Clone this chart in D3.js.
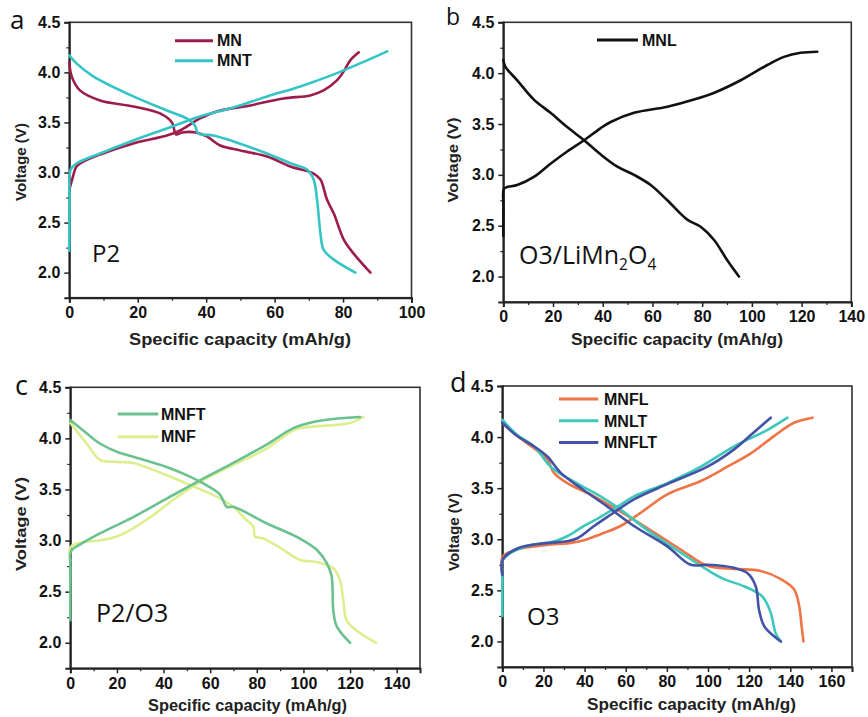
<!DOCTYPE html>
<html>
<head>
<meta charset="utf-8">
<script src="https://cdn.jsdelivr.net/npm/d3@7"></script>
<style>
  html, body { margin: 0; padding: 0; background: #fff; }
  svg { display: block; }
  .axis-title { font-family: "Liberation Sans", Arial, sans-serif; font-weight: bold; fill: #222; }
  .legend-text { font-family: "Liberation Sans", Arial, sans-serif; font-weight: bold; fill: #111; }
  .tag { font-family: "Open Sans", "Noto Sans", sans-serif; fill: #111; }
</style>
</head>
<body>
<svg id="chart" width="868" height="717"></svg>
<script>
// ---- Galvanostatic charge/discharge profiles: [capacity (mAh/g), voltage (V)] ----

// (a) P2
const mnCharge = [[0,2.83],[1,2.95],[2.1,3.06],[4.1,3.11],[9,3.18],[18.7,3.29],[28.5,3.37],[32.4,3.42],[38.2,3.54],[43.1,3.61],[52.9,3.67],[62.6,3.74],[70.4,3.77],[74.3,3.82],[78.2,3.92],[80.2,4.01],[82.1,4.12],[84.6,4.2]];
const mnDischarge = [[0,4.1],[0.7,3.96],[3.1,3.82],[9,3.72],[18.7,3.66],[26.5,3.59],[30,3.5],[31.2,3.38],[33,3.4],[37,3.4],[40.2,3.36],[44.1,3.27],[50,3.22],[57.8,3.16],[64.6,3.06],[71.4,2.99],[73.4,2.93],[75.3,2.73],[77.3,2.59],[80.2,2.33],[83.1,2.19],[88,2.0]];
const mntCharge = [[0,2.22],[0.1,2.7],[0.4,3.03],[2.1,3.09],[9,3.19],[18.7,3.32],[28.5,3.44],[38.2,3.56],[48,3.65],[57.8,3.76],[67.5,3.86],[77.3,3.98],[87,4.12],[92.9,4.21]];
const mntDischarge = [[0,4.17],[2.1,4.09],[7,3.96],[18.7,3.76],[28.5,3.62],[34.3,3.54],[36.7,3.47],[37.7,3.39],[42.1,3.37],[48,3.31],[57.8,3.19],[65.6,3.08],[69.5,3.03],[71.4,2.93],[72.4,2.73],[73.4,2.39],[74.3,2.23],[77.3,2.13],[83.6,2.0]];

// (b) O3/LiMn2O4
const mnlCharge = [[0,2.4],[0.05,2.7],[0.2,2.86],[1.5,2.88],[5.6,2.9],[12.3,2.98],[19,3.11],[25.7,3.23],[32.5,3.34],[39.2,3.46],[43.2,3.52],[52.6,3.61],[66,3.67],[76.7,3.74],[86.1,3.82],[95.5,3.93],[106.2,4.08],[112.9,4.16],[119.6,4.2],[126.3,4.21]];
const mnlDischarge = [[0,4.13],[0.9,4.06],[5.6,3.93],[12.3,3.74],[19,3.61],[25.7,3.47],[32.5,3.34],[39.2,3.2],[45.9,3.08],[52.6,3.0],[59.3,2.9],[66,2.75],[74,2.56],[79.4,2.49],[84.8,2.36],[90.1,2.16],[94.8,2.0]];

// (c) P2/O3
const mnftCharge = [[0,2.22],[0.1,2.7],[0.4,2.9],[4.1,2.96],[12.7,3.07],[27,3.23],[41.3,3.41],[55.6,3.59],[69.9,3.76],[84.2,3.94],[95.7,4.1],[104.2,4.16],[112.8,4.19],[124.3,4.21]];
const mnfCharge = [[0,2.8],[0.2,2.94],[7,2.99],[12.7,3.0],[19.9,3.04],[27,3.12],[35.6,3.25],[44.2,3.4],[51.3,3.51],[58.5,3.61],[69.9,3.74],[84.2,3.9],[95.7,4.08],[101.4,4.11],[112.8,4.13],[120,4.15],[125.7,4.21]];
const mnftDischarge = [[0,4.18],[7,4.05],[12.7,3.95],[19.9,3.87],[27,3.82],[41.3,3.72],[49.9,3.64],[58.5,3.54],[64.2,3.45],[67.1,3.33],[69.9,3.33],[84.2,3.17],[98.5,3.02],[105.7,2.91],[110,2.78],[112.1,2.65],[112.8,2.32],[114.3,2.16],[120,2.0]];
const mnfDischarge = [[0,4.15],[7,3.95],[12.7,3.79],[19.9,3.77],[27,3.76],[41.3,3.64],[52.8,3.53],[62.8,3.43],[69.9,3.33],[75.6,3.2],[78.5,3.14],[79.2,3.04],[82.8,3.02],[91.4,2.91],[98.5,2.81],[105.7,2.79],[112.8,2.73],[115.7,2.61],[117.1,2.42],[118.5,2.22],[122.8,2.12],[131.1,2.0]];

// (d) O3
const mnflCharge = [[0,2.7],[0.2,2.83],[7.3,2.9],[15.4,2.93],[23.5,2.95],[31.6,2.96],[39.7,2.99],[47.8,3.05],[57.5,3.13],[67.3,3.26],[80.2,3.44],[96.5,3.57],[109.4,3.71],[120.8,3.84],[132.1,4.01],[141.8,4.14],[150.8,4.19]];
const mnltCharge = [[0,2.25],[0.1,2.6],[0.4,2.8],[7.3,2.9],[15.4,2.95],[23.5,2.97],[31.6,3.03],[39.7,3.13],[47.8,3.22],[56,3.32],[64,3.42],[80.2,3.55],[96.5,3.71],[112.7,3.91],[128.9,4.07],[138.6,4.19]];
const mnfltCharge = [[0,2.65],[0.2,2.8],[7.3,2.91],[20.3,2.96],[31.6,2.98],[36.5,3.01],[44.6,3.13],[52.7,3.24],[64,3.39],[80.2,3.54],[99.7,3.71],[112.7,3.88],[120.8,4.02],[130.5,4.19]];
const mnflDischarge = [[0,4.14],[7.3,4.01],[15.4,3.89],[21.9,3.78],[25.1,3.65],[31.6,3.55],[44.6,3.42],[57.5,3.27],[70.5,3.11],[86.7,2.9],[99.7,2.74],[112.7,2.71],[125.6,2.69],[135.4,2.61],[141.8,2.51],[144.3,2.35],[145.5,2.15],[146.4,2.0]];
const mnltDischarge = [[0,4.17],[7.3,4.02],[15.4,3.91],[23.5,3.71],[31.6,3.6],[47.8,3.42],[57.5,3.29],[70.5,3.09],[86.7,2.87],[99.7,2.7],[107.8,2.61],[117.5,2.54],[126.4,2.44],[130.5,2.28],[132.9,2.08],[135.4,2.0]];
const mnfltDischarge = [[0,4.14],[7.3,4.01],[15.4,3.91],[21.9,3.81],[28.4,3.65],[39.7,3.48],[51.1,3.32],[64,3.13],[80.2,2.93],[91.6,2.75],[99.7,2.75],[112.7,2.72],[119.1,2.67],[123.2,2.54],[124.8,2.31],[127.3,2.15],[132.1,2.05],[135.4,2.0]];

// ---- Axis ticks ----
const voltageTicks = [2.0, 2.5, 3.0, 3.5, 4.0, 4.5];
const voltageMinor = [2.25, 2.75, 3.25, 3.75, 4.25];
const capTicksA = [0, 20, 40, 60, 80, 100];
const capTicksB = [0, 20, 40, 60, 80, 100, 120, 140];
const capTicksC = [0, 20, 40, 60, 80, 100, 120, 140];
const capTicksD = [0, 20, 40, 60, 80, 100, 120, 140, 160];

const svg = d3.select("#chart");

const panels = [
  {
    letter: "a", box: {x0: 69.3, x1: 411.5, y0: 22.3, y1: 297.7}, xDomain: [0, 100], xTicks: capTicksA,
    letterPos: [10, 29, 26], tag: {text: "P2", x: 92, y: 262, size: 24},
    xTitle: {cx: 240, y: 345, len: 222}, yTitle: {cx: 21.5, cy: 162, len: 78},
    legend: {x0: 175, x1: 213, y: 40.7, dy: 20, tx: 217},
    series: [
      {name: "MN", color: "#9c1d4d", parts: [mnCharge, mnDischarge]},
      {name: "MNT", color: "#35c4c6", parts: [mntCharge, mntDischarge]}
    ]
  },
  {
    letter: "b", box: {x0: 503.3, x1: 851.3, y0: 22.3, y1: 302}, xDomain: [0, 140], xTicks: capTicksB,
    letterPos: [446, 25, 23], tag: {text: "O3/LiMn", sub1: "2", mid: "O", sub2: "4", x: 519, y: 264, size: 25},
    xTitle: {cx: 677, y: 345, len: 212}, yTitle: {cx: 453, cy: 160, len: 85},
    legend: {x0: 597, x1: 638, y: 40, dy: 20, tx: 642},
    series: [
      {name: "MNL", color: "#111111", parts: [mnlCharge, mnlDischarge]}
    ]
  },
  {
    letter: "c", box: {x0: 70.3, x1: 420, y0: 387.3, y1: 668.3}, xDomain: [0, 150], xTicks: capTicksC,
    letterPos: [15, 395, 27], tag: {text: "P2/O3", x: 96, y: 622, size: 25},
    xTitle: {cx: 247.5, y: 711, len: 199}, yTitle: {cx: 21, cy: 524, len: 94},
    legend: {x0: 117.7, x1: 158.3, y: 414, dy: 22.7, tx: 161},
    series: [
      {name: "MNFT", color: "#6cc191", parts: [mnftCharge, mnftDischarge]},
      {name: "MNF", color: "#dcef8e", parts: [mnfCharge, mnfDischarge]}
    ],
    drawOrder: [1, 0]
  },
  {
    letter: "d", box: {x0: 502.3, x1: 852, y0: 386, y1: 667}, xDomain: [0, 170], xTicks: capTicksD,
    letterPos: [450, 392, 27], tag: {text: "O3", x: 527, y: 625, size: 24},
    xTitle: {cx: 691.5, y: 710, len: 209}, yTitle: {cx: 454.5, cy: 532, len: 78},
    legend: {x0: 559, x1: 598.3, y: 399, dy: 21.8, tx: 604},
    series: [
      {name: "MNFL", color: "#ef7446", parts: [mnflCharge, mnflDischarge]},
      {name: "MNLT", color: "#3ec7bb", parts: [mnltCharge, mnltDischarge]},
      {name: "MNFLT", color: "#4352a5", parts: [mnfltCharge, mnfltDischarge]}
    ]
  }
];

function styleTickText(sel) {
  sel.attr("fill", "#111")
    .style("font-family", "'Liberation Sans', Arial, sans-serif")
    .style("font-weight", "700")
    .style("font-size", "16px");
}

panels.forEach(p => {
  const b = p.box;
  const x = d3.scaleLinear().domain(p.xDomain).range([b.x0, b.x1]);
  const y = d3.scaleLinear().domain([1.75, 4.5]).range([b.y1, b.y0]);
  const g = svg.append("g");

  // frame (top and right)
  g.append("rect")
    .attr("x", b.x0).attr("y", b.y0)
    .attr("width", b.x1 - b.x0).attr("height", b.y1 - b.y0)
    .attr("fill", "none").attr("stroke", "#333").attr("stroke-width", 1.6);

  // y axis with major + minor ticks
  const yAxis = g.append("g").attr("transform", `translate(${b.x0},0)`)
    .call(d3.axisLeft(y).tickValues(voltageTicks).tickFormat(d3.format(".1f")).tickSize(5).tickPadding(4));
  yAxis.select(".domain").attr("stroke", "#222").attr("stroke-width", 2);
  yAxis.selectAll(".tick line").attr("stroke", "#222").attr("stroke-width", 1.5);
  styleTickText(yAxis.selectAll(".tick text"));
  const yMinor = g.append("g").attr("transform", `translate(${b.x0},0)`)
    .call(d3.axisLeft(y).tickValues(voltageMinor).tickFormat("").tickSize(3));
  yMinor.select(".domain").remove();
  yMinor.selectAll(".tick line").attr("stroke", "#222").attr("stroke-width", 1.2);

  // x axis with major + minor ticks
  const xAxis = g.append("g").attr("transform", `translate(0,${b.y1})`)
    .call(d3.axisBottom(x).tickValues(p.xTicks).tickFormat(d3.format("d")).tickSize(5).tickPadding(4));
  xAxis.select(".domain").attr("stroke", "#222").attr("stroke-width", 2);
  xAxis.selectAll(".tick line").attr("stroke", "#222").attr("stroke-width", 1.5);
  styleTickText(xAxis.selectAll(".tick text"));
  const minorX = p.xTicks.slice(0, -1).map(t => t + 10).filter(t => t < p.xDomain[1]);
  const xMinor = g.append("g").attr("transform", `translate(0,${b.y1})`)
    .call(d3.axisBottom(x).tickValues(minorX).tickFormat("").tickSize(3));
  xMinor.select(".domain").remove();
  xMinor.selectAll(".tick line").attr("stroke", "#222").attr("stroke-width", 1.2);

  // axis titles
  g.append("text").attr("class", "axis-title")
    .attr("x", p.xTitle.cx).attr("y", p.xTitle.y)
    .attr("text-anchor", "middle").style("font-size", "16px")
    .attr("textLength", p.xTitle.len).attr("lengthAdjust", "spacingAndGlyphs")
    .text("Specific capacity (mAh/g)");
  g.append("text").attr("class", "axis-title")
    .attr("transform", `translate(${p.yTitle.cx},${p.yTitle.cy}) rotate(-90)`)
    .attr("text-anchor", "middle").attr("dy", "0.35em").style("font-size", "14px")
    .attr("textLength", p.yTitle.len).attr("lengthAdjust", "spacingAndGlyphs")
    .text("Voltage (V)");

  // curves
  const line = d3.line()
    .x(d => x(d[0])).y(d => y(d[1]))
    .curve(d3.curveCatmullRom.alpha(0.5));
  const order = p.drawOrder || p.series.map((_, i) => i);
  order.forEach(i => {
    const s = p.series[i];
    s.parts.forEach(part => {
      g.append("path").datum(part)
        .attr("d", line)
        .attr("fill", "none")
        .attr("stroke", s.color)
        .attr("stroke-width", 2.6)
        .attr("stroke-linejoin", "round")
        .attr("stroke-linecap", "round");
    });
  });

  // legend
  p.series.forEach((s, i) => {
    const ly = p.legend.y + i * p.legend.dy;
    g.append("line")
      .attr("x1", p.legend.x0).attr("x2", p.legend.x1)
      .attr("y1", ly).attr("y2", ly)
      .attr("stroke", s.color).attr("stroke-width", 3);
    g.append("text").attr("class", "legend-text")
      .attr("x", p.legend.tx).attr("y", ly).attr("dy", "0.36em")
      .style("font-size", "16px").text(s.name);
  });

  // panel letter
  g.append("text").attr("class", "tag")
    .attr("x", p.letterPos[0]).attr("y", p.letterPos[1])
    .style("font-size", p.letterPos[2] + "px").text(p.letter);

  // phase label
  const t = g.append("text").attr("class", "tag")
    .attr("x", p.tag.x).attr("y", p.tag.y)
    .style("font-size", p.tag.size + "px");
  t.append("tspan").text(p.tag.text);
  if (p.tag.sub1) {
    t.append("tspan").attr("dy", 6).style("font-size", (p.tag.size * 0.62) + "px").text(p.tag.sub1);
    t.append("tspan").attr("dy", -6).text(p.tag.mid);
    t.append("tspan").attr("dy", 6).style("font-size", (p.tag.size * 0.62) + "px").text(p.tag.sub2);
  }
});
</script>
</body>
</html>
